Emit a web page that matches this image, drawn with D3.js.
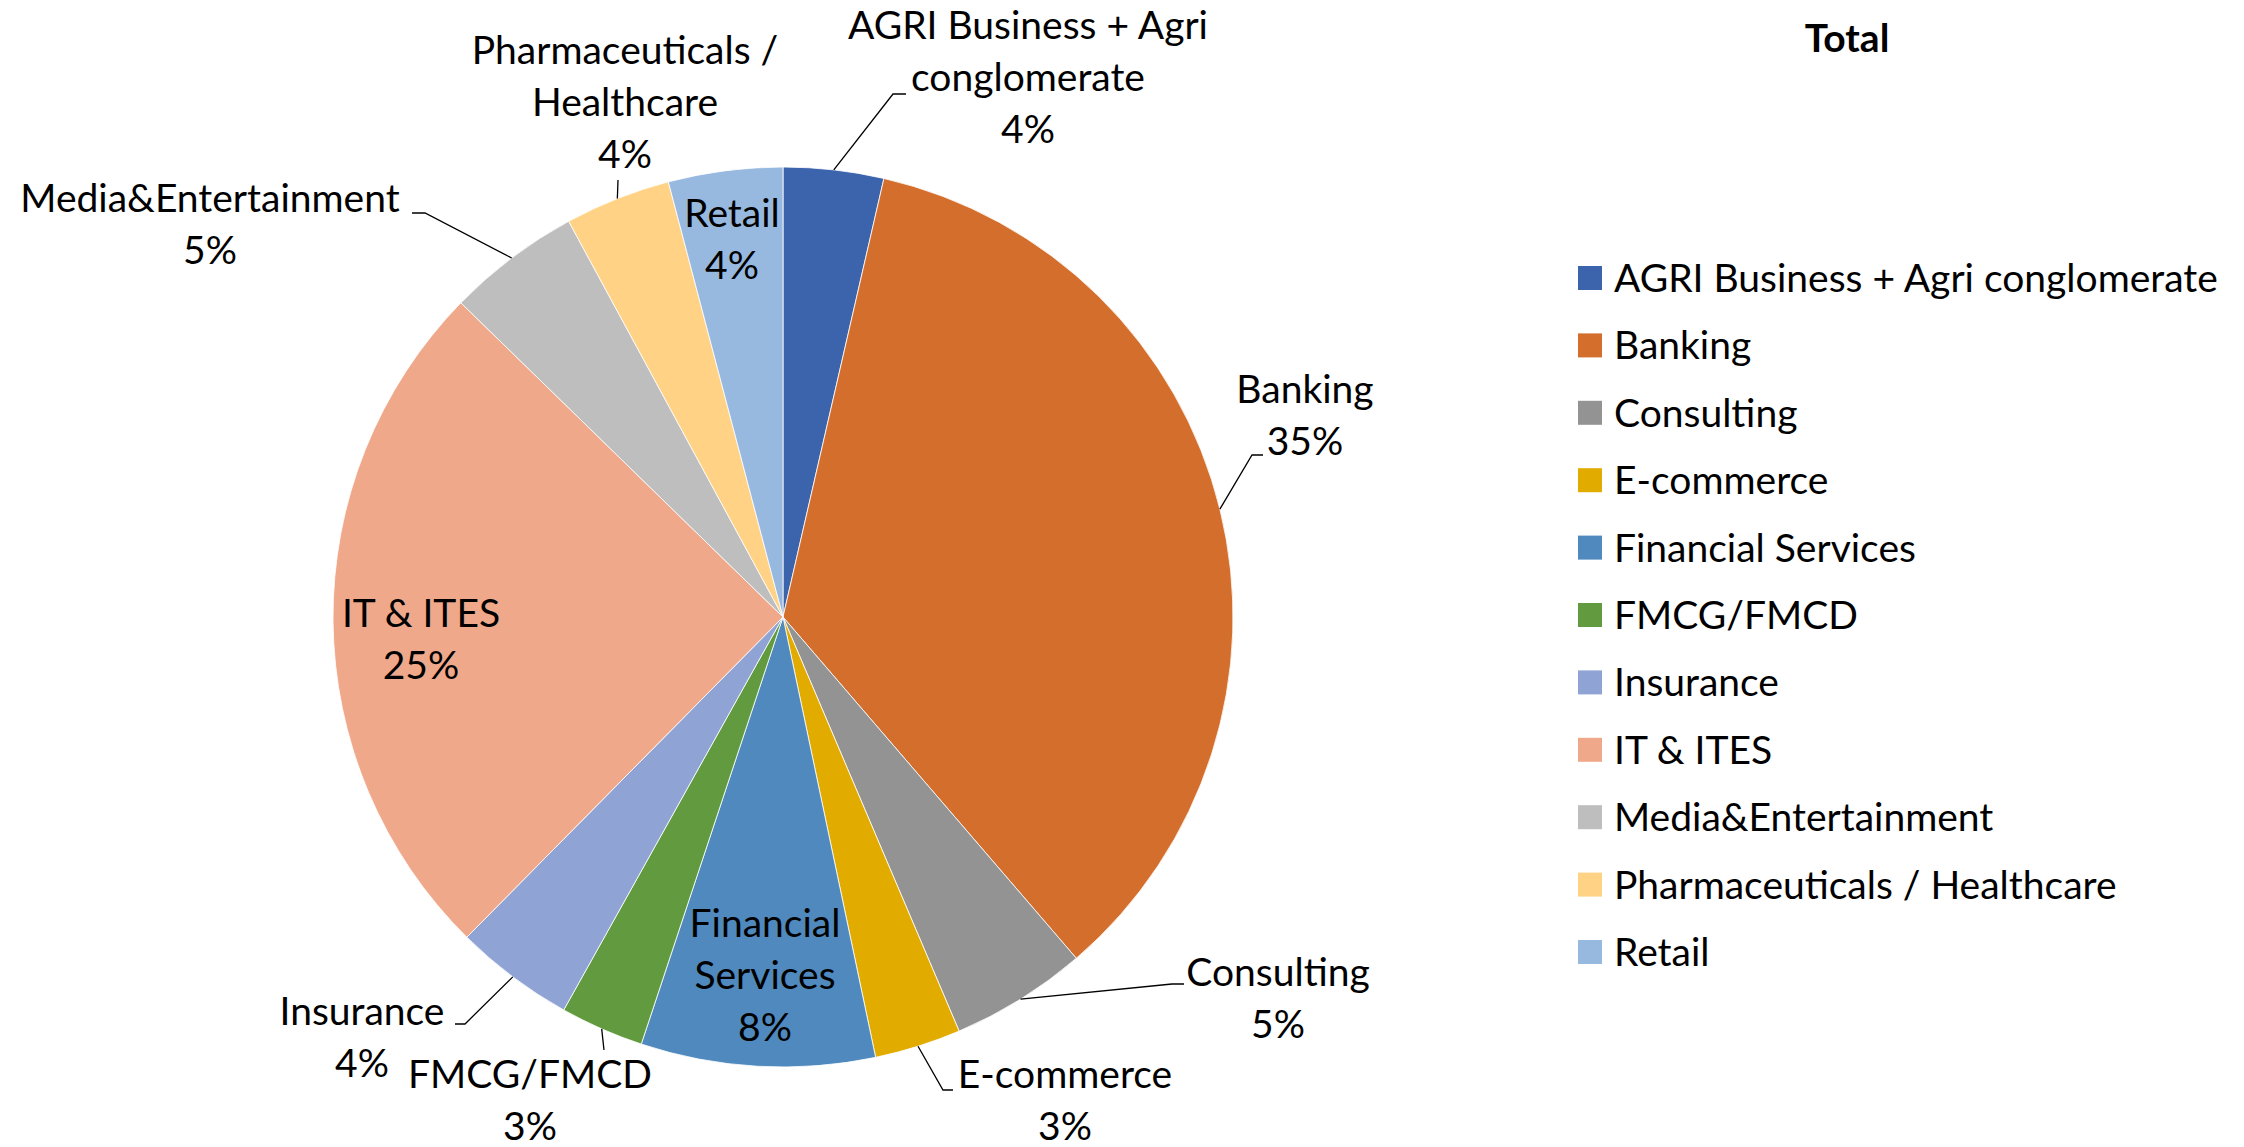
<!DOCTYPE html>
<html>
<head>
<meta charset="utf-8">
<script src="https://cdn.jsdelivr.net/npm/d3@7"></script>
<style>
  body { margin: 0; background: #fff; }
  svg { display: block; }
</style>
</head>
<body>
<div id="chart"></div>
<script>
// share of each industry (percent of total)
var categories = [
    "AGRI Business + Agri conglomerate",
    "Banking",
    "Consulting",
    "E-commerce",
    "Financial Services",
    "FMCG/FMCD",
    "Insurance",
    "IT & ITES",
    "Media&Entertainment",
    "Pharmaceuticals / Healthcare",
    "Retail"
];
var values = [3.6, 35.1, 4.9, 3.1, 8.4, 3.0, 4.3, 24.9, 4.8, 3.8, 4.1];
var palette = ["#3C64AD", "#D36E2C", "#939393", "#E2AB00", "#4F89BD", "#629A3F",
               "#8FA3D4", "#F0A88B", "#BEBEBE", "#FFD286", "#97B9E0"];
var chartTitle = "Total";

var plotVariables = {
    width: 2244,
    height: 1147,
    cx: 783,
    cy: 617,
    radius: 450,
    font: "Lato, 'Open Sans', sans-serif",
    fontSize: 39,
    lineHeight: 52,
    legendX: 1578,
    legendY: 278,
    legendSpacing: 67.4,
    legendBox: 24
};

// where Excel put each data label (label centre x, first baseline y),
// and the elbow of the leader line if there is one
var labelLayout = new Map([
    ["AGRI Business + Agri conglomerate", {x: 1028, y: 39, lines: ["AGRI Business + Agri", "conglomerate"], leader: [[893, 94], [906, 94]]}],
    ["Banking", {x: 1305, y: 403, lines: ["Banking"], leader: [[1252, 455], [1263, 455]]}],
    ["Consulting", {x: 1278, y: 986, lines: ["Consulting"], leader: [[1172, 984], [1184, 984]]}],
    ["E-commerce", {x: 1065, y: 1088, lines: ["E-commerce"], leader: [[943, 1090], [953, 1090]]}],
    ["Financial Services", {x: 765, y: 937, lines: ["Financial", "Services"], leader: null}],
    ["FMCG/FMCD", {x: 530, y: 1088, lines: ["FMCG/FMCD"], leader: [[604, 1050]]}],
    ["Insurance", {x: 362, y: 1025, lines: ["Insurance"], leader: [[465, 1024], [455, 1024]]}],
    ["IT & ITES", {x: 421, y: 627, lines: ["IT & ITES"], leader: null}],
    ["Media&Entertainment", {x: 210, y: 212, lines: ["Media&Entertainment"], leader: [[425, 213], [412, 213]]}],
    ["Pharmaceuticals / Healthcare", {x: 625, y: 64, lines: ["Pharmaceuticals /", "Healthcare"], leader: [[618, 180]]}],
    ["Retail", {x: 732, y: 227, lines: ["Retail"], leader: null}]
]);

var data = categories.map((c, i) => ({category: c, value: values[i]}));
var total = d3.sum(values);
var pct = d3.format(".0%");

var color = d3.scaleOrdinal()
    .domain(categories)
    .range(palette);

var svg = d3.select("#chart").append("svg")
    .attr("width", plotVariables.width)
    .attr("height", plotVariables.height)
    .attr("font-family", plotVariables.font);

// pie, clockwise from 12 o'clock in data order
var pie = d3.pie()
    .sort(null)
    .value(d => d.value);
var arcs = pie(data);

var arc = d3.arc()
    .innerRadius(0)
    .outerRadius(plotVariables.radius);

var pieGroup = svg.append("g")
    .attr("transform", `translate(${plotVariables.cx},${plotVariables.cy})`);

pieGroup.selectAll("path")
    .data(arcs)
    .join("path")
    .attr("d", arc)
    .attr("fill", d => color(d.data.category))
    .attr("stroke", "#fff")
    .attr("stroke-width", 0.8);

// leader lines: from the slice's outer edge to the label
var edgePoint = function(d) {
    var a = (d.startAngle + d.endAngle) / 2;
    return [plotVariables.cx + plotVariables.radius * Math.sin(a),
            plotVariables.cy - plotVariables.radius * Math.cos(a)];
};

svg.append("g")
    .selectAll("polyline")
    .data(arcs.filter(d => labelLayout.get(d.data.category).leader))
    .join("polyline")
    .attr("points", d => [edgePoint(d)].concat(labelLayout.get(d.data.category).leader).join(" "))
    .attr("fill", "none")
    .attr("stroke", "#000")
    .attr("stroke-width", 1.3);

// data labels: name (possibly wrapped) then percentage
var labels = svg.append("g")
    .selectAll("text")
    .data(arcs)
    .join("text")
    .attr("text-anchor", "middle")
    .attr("font-size", plotVariables.fontSize + "px")
    .attr("fill", "#000");

labels.each(function(d) {
    var lay = labelLayout.get(d.data.category);
    var lines = lay.lines.concat([pct(d.data.value / total)]);
    d3.select(this).selectAll("tspan")
        .data(lines)
        .join("tspan")
        .attr("x", lay.x)
        .attr("y", (l, i) => lay.y + i * plotVariables.lineHeight)
        .text(l => l);
});

// title
svg.append("text")
    .attr("x", 1847)
    .attr("y", 52)
    .attr("text-anchor", "middle")
    .attr("font-size", "39px")
    .attr("font-weight", "bold")
    .text(chartTitle);

// legend
var legend = svg.append("g")
    .attr("transform", `translate(${plotVariables.legendX},${plotVariables.legendY})`);

legend.selectAll("rect")
    .data(categories)
    .join("rect")
    .attr("x", 0)
    .attr("y", (d, i) => i * plotVariables.legendSpacing - plotVariables.legendBox / 2)
    .attr("width", plotVariables.legendBox)
    .attr("height", plotVariables.legendBox)
    .attr("fill", d => color(d));

legend.selectAll("text")
    .data(categories)
    .join("text")
    .attr("x", 36)
    .attr("y", (d, i) => i * plotVariables.legendSpacing + 14)
    .attr("font-size", plotVariables.fontSize + "px")
    .attr("fill", "#000")
    .text(d => d);
</script>
</body>
</html>
